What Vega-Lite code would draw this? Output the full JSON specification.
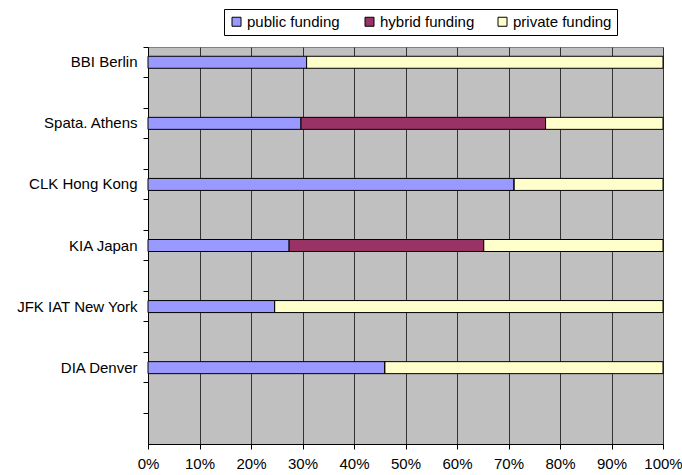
{
  "$schema": "https://vega.github.io/schema/vega-lite/v6.json",
  "width": 515,
  "height": 397,
  "autosize": {"type": "none"},
  "padding": {"left": 148, "top": 47, "right": 19, "bottom": 31},
  "background": "white",
  "config": {
    "font": "Liberation Sans",
    "view": {"fill": "#C0C0C0", "stroke": "#808080", "strokeWidth": 1}
  },
  "data": {
    "values": [
      {"airport": "BBI Berlin", "type": "public funding", "order": 1, "value": 30.8},
      {"airport": "BBI Berlin", "type": "hybrid funding", "order": 2, "value": 0},
      {"airport": "BBI Berlin", "type": "private funding", "order": 3, "value": 69.2},
      {"airport": "Spata. Athens", "type": "public funding", "order": 1, "value": 29.7},
      {"airport": "Spata. Athens", "type": "hybrid funding", "order": 2, "value": 47.5},
      {"airport": "Spata. Athens", "type": "private funding", "order": 3, "value": 22.8},
      {"airport": "CLK Hong Kong", "type": "public funding", "order": 1, "value": 71.1},
      {"airport": "CLK Hong Kong", "type": "hybrid funding", "order": 2, "value": 0},
      {"airport": "CLK Hong Kong", "type": "private funding", "order": 3, "value": 28.9},
      {"airport": "KIA Japan", "type": "public funding", "order": 1, "value": 27.4},
      {"airport": "KIA Japan", "type": "hybrid funding", "order": 2, "value": 37.8},
      {"airport": "KIA Japan", "type": "private funding", "order": 3, "value": 34.8},
      {"airport": "JFK IAT New York", "type": "public funding", "order": 1, "value": 24.6},
      {"airport": "JFK IAT New York", "type": "hybrid funding", "order": 2, "value": 0},
      {"airport": "JFK IAT New York", "type": "private funding", "order": 3, "value": 75.4},
      {"airport": "DIA Denver", "type": "public funding", "order": 1, "value": 46.0},
      {"airport": "DIA Denver", "type": "hybrid funding", "order": 2, "value": 0},
      {"airport": "DIA Denver", "type": "private funding", "order": 3, "value": 54.0}
    ]
  },
  "mark": {"type": "bar", "size": 12, "stroke": "black", "strokeWidth": 1},
  "encoding": {
    "y": {
      "field": "airport",
      "type": "nominal",
      "title": null,
      "scale": {
        "domain": ["BBI Berlin", "_1", "Spata. Athens", "_2", "CLK Hong Kong", "_3", "KIA Japan", "_4", "JFK IAT New York", "_5", "DIA Denver", "_6", "_7"],
        "paddingInner": 0,
        "paddingOuter": 0
      },
      "axis": {
        "bandPosition": 0,
        "labelExpr": "test(/^_/, datum.label) ? '' : datum.label",
        "labelFontSize": 15,
        "labelColor": "black",
        "labelPadding": 6,
        "tickSize": 5,
        "tickColor": "black",
        "domainColor": "black",
        "grid": false
      }
    },
    "x": {
      "field": "value",
      "type": "quantitative",
      "stack": "normalize",
      "title": null,
      "scale": {"domain": [0, 1]},
      "axis": {
        "values": [0, 0.1, 0.2, 0.3, 0.4, 0.5, 0.6, 0.7, 0.8, 0.9, 1],
        "format": ".0%",
        "labelFontSize": 15,
        "labelColor": "black",
        "labelPadding": 7,
        "tickSize": 5,
        "tickColor": "black",
        "domainColor": "black",
        "grid": true,
        "gridColor": "#333333",
        "gridWidth": 1,
        "labelFlush": false
      }
    },
    "color": {
      "field": "type",
      "type": "nominal",
      "title": null,
      "scale": {
        "domain": ["public funding", "hybrid funding", "private funding"],
        "range": ["#9999FF", "#993366", "#FFFFCC"]
      },
      "legend": {
        "orient": "none",
        "legendX": 76,
        "legendY": -38,
        "direction": "horizontal",
        "columns": 3,
        "gridAlign": "all",
        "symbolType": "square",
        "symbolSize": 81,
        "symbolStrokeColor": "black",
        "symbolStrokeWidth": 1,
        "symbolOpacity": 1,
        "labelFontSize": 15,
        "labelColor": "black",
        "labelOffset": 3,
        "columnPadding": 16,
        "padding": 5,
        "strokeColor": "black",
        "fillColor": "white"
      }
    },
    "order": {"field": "order", "type": "quantitative"}
  }
}
